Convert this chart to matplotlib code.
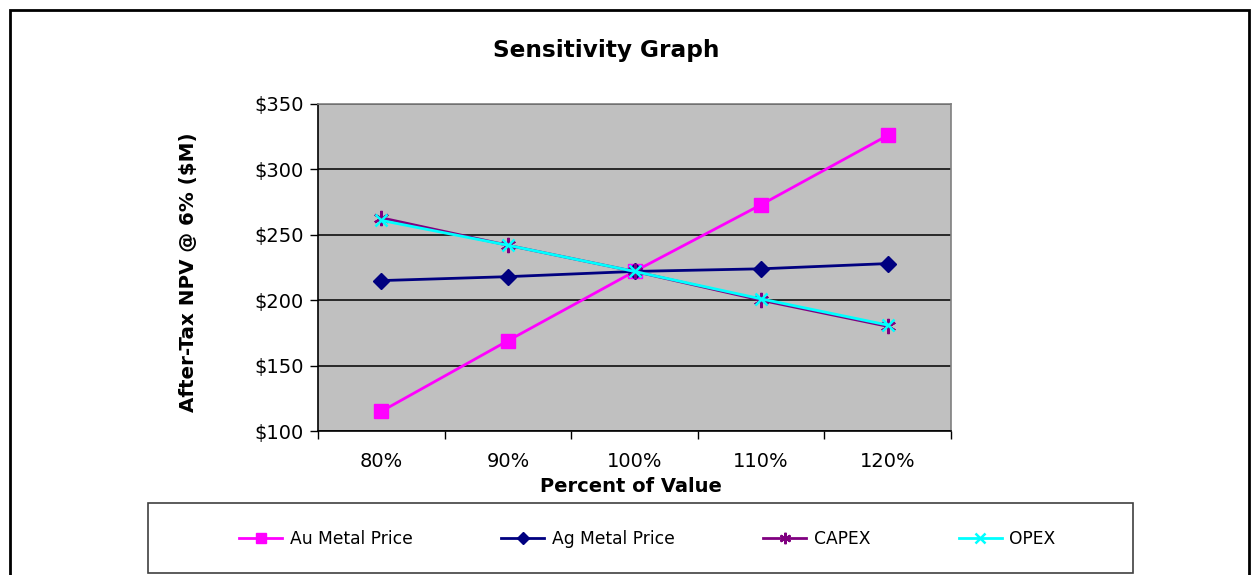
import matplotlib
matplotlib.use("Agg")
import matplotlib.pyplot as plt
from matplotlib.patches import Rectangle
from matplotlib.ticker import FixedLocator, FuncFormatter

plt.rcParams['font.family'] = ['DejaVu Sans']

# Sensitivity cases (percent of base value)
categories = ["80%", "90%", "100%", "110%", "120%"]

# After-tax NPV @ 6% ($M)
au_metal_price = [115, 169, 222, 273, 326]
ag_metal_price = [215, 218, 222, 224, 228]
capex = [263, 242, 222, 200, 180]
opex = [261, 242, 222, 201, 181]

y_ticks = [100, 150, 200, 250, 300, 350]

fig = plt.figure(figsize=(12.55, 5.75), dpi=100)
fig.patch.set_facecolor("white")

ax = fig.add_axes([318 / 1255, 1 - 431 / 575, (951 - 318) / 1255, (431 - 104) / 575])
ax.set_facecolor("#C0C0C0")

x = list(range(len(categories)))
ax.plot(x, au_metal_price, color="#FF00FF", lw=2, marker="s", ms=10,
        mec="#FF00FF", mfc="#FF00FF", label="Au Metal Price", zorder=3)
ax.plot(x, ag_metal_price, color="#000080", lw=2, marker="D", ms=8,
        mec="#000080", mfc="#000080", label="Ag Metal Price", zorder=3)
ax.plot(x, capex, color="#800080", lw=2, marker=(6, 2, 0), ms=11, mew=1.6,
        mec="#800080", label="CAPEX", zorder=3)
ax.plot(x, opex, color="#00FFFF", lw=2, marker="x", ms=9, mew=1.8,
        mec="#00FFFF", label="OPEX", zorder=4)

ax.set_xlim(-0.5, len(categories) - 0.5)
ax.set_ylim(y_ticks[0], y_ticks[-1])

# y axis: dollar ticks with black gridlines
ax.yaxis.set_major_locator(FixedLocator(y_ticks))
ax.yaxis.set_major_formatter(FuncFormatter(lambda v, p: f"${v:.0f}"))
ax.grid(axis="y", color="black", lw=1.1, zorder=1)
ax.tick_params(axis="y", direction="out", length=6, width=1, labelsize=14, pad=4)

# x axis: ticks between categories, labels at category centres
ax.xaxis.set_major_locator(FixedLocator([i - 0.5 for i in range(len(categories) + 1)]))
ax.set_xticklabels([])
ax.set_xticks(x, minor=True)
ax.set_xticklabels(categories, minor=True)
ax.tick_params(axis="x", which="major", direction="out", length=6, width=1)
ax.tick_params(axis="x", which="minor", length=0, labelsize=14, pad=15)

for side in ("top", "right"):
    ax.spines[side].set_color("#808080")
    ax.spines[side].set_linewidth(1.2)
for side in ("left", "bottom"):
    ax.spines[side].set_color("black")
    ax.spines[side].set_linewidth(1.2)

ax.set_xlabel("Percent of Value", fontsize=14, fontweight="bold", va="center")
ax.xaxis.set_label_coords(0.4937, (431 - 486) / 327)
ax.set_ylabel("After-Tax NPV @ 6% ($M)", fontsize=14.3, fontweight="bold", va="center")
ax.yaxis.set_label_coords((188 - 318) / 633, (431 - 272.5) / 327)

fig.text(606 / 1255, 1 - 50 / 575, "Sensitivity Graph", ha="center", va="center",
         fontsize=16.7, fontweight="bold")

# Legend box beneath the chart
fig.patches.append(Rectangle((148 / 1255, 1 - 573 / 575), (1133 - 148) / 1255, 70 / 575,
                             transform=fig.transFigure, fill=False,
                             edgecolor="#404040", lw=1.2))
handles, labels = ax.get_legend_handles_labels()
fig.legend(handles, labels, loc="center", bbox_to_anchor=(647.5 / 1255, 1 - 539 / 575),
           ncol=4, frameon=False, fontsize=12.3, handlelength=2.5,
           handletextpad=0.45, columnspacing=5.2, markerscale=0.75)

# Outer chart frame
fig.patches.append(Rectangle((10 / 1255, -0.05), (1249 - 10) / 1255, 1.05 - 9.5 / 575,
                             transform=fig.transFigure, fill=False,
                             edgecolor="black", lw=2))

fig.savefig("out.png", dpi=100, facecolor="white")
